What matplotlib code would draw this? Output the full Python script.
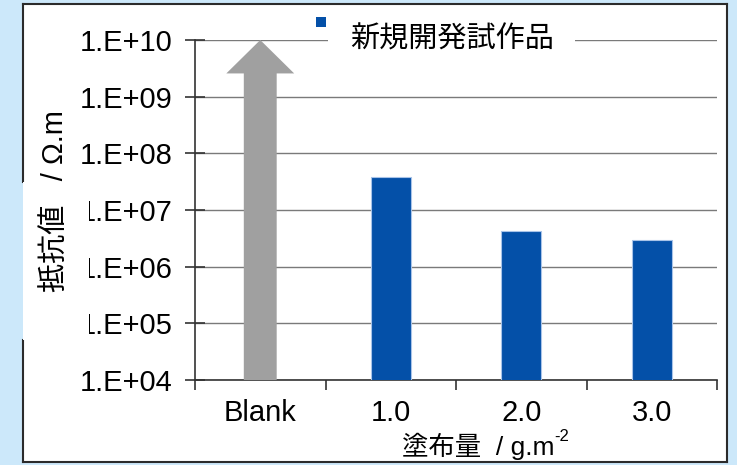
import matplotlib.pyplot as plt
import numpy as np
from matplotlib.patches import Rectangle, Polygon
from matplotlib.lines import Line2D
from matplotlib.ticker import NullLocator, FixedLocator

# data
categories = ["Blank", "1.0", "2.0", "3.0"]
blank_value = 1e10          # drawn as an arrow (off scale)
coated_values = [3.8e7, 4.3e6, 2.9e6]
ytick_exps = [4, 5, 6, 7, 8, 9, 10]
series_name = "新規開発試作品"

W, H = 737, 465
BLUE = "#0450a8"
GRAY = "#a0a0a0"
FONT = ["Liberation Sans", "Noto Sans CJK JP"]


def fx(px):
    return px / W


def fy(py):
    return 1 - py / H


plt.rcParams["font.family"] = FONT

fig = plt.figure(figsize=(W / 100, H / 100), dpi=100, facecolor="#cce8fa")

# white panel with border (left edge interrupted like the original)
fig.patches.append(Rectangle((fx(23), fy(462)), fx(727) - fx(23), fy(4) - fy(462),
                             transform=fig.transFigure, facecolor="white",
                             edgecolor="none", zorder=-2))
border = dict(transform=fig.transFigure, color="#2b2b2b", lw=1.5, zorder=-1)
for xs, ys in [((23, 727), (4, 4)), ((727, 727), (4, 462)), ((23, 727), (462, 462)),
               ((23, 23), (4, 182)), ((23, 23), (340, 462))]:
    fig.lines.append(Line2D([fx(v) for v in xs], [fy(v) for v in ys], **border))

ax = fig.add_axes([fx(195), fy(380), fx(717) - fx(195), fy(40) - fy(380)])
ax.patch.set_visible(False)
ax.set_yscale("log")
ax.set_ylim(10.0 ** ytick_exps[0], 10.0 ** ytick_exps[-1])
ax.set_xlim(-0.5, len(categories) - 0.5)

x = np.arange(len(categories))
ax.bar(x[1:], coated_values, width=0.31, color=BLUE, edgecolor="#a8c3e8",
       linewidth=0.8, zorder=3)

# Blank: gray up-arrow reaching the top of the scale
shaft, head = 0.126, 0.26
head_base = blank_value / 10 ** 0.59
bottom = 10.0 ** ytick_exps[0]
arrow = Polygon([(x[0] - shaft, bottom), (x[0] - shaft, head_base), (x[0] - head, head_base),
                 (x[0], blank_value), (x[0] + head, head_base), (x[0] + shaft, head_base),
                 (x[0] + shaft, bottom)], closed=True, facecolor=GRAY, edgecolor="none",
                zorder=3)
ax.add_patch(arrow)

ax.set_yticks([10.0 ** e for e in ytick_exps])
ax.set_yticklabels([f"1.E+{e:02d}" for e in ytick_exps])
ax.yaxis.set_minor_locator(NullLocator())
ax.yaxis.grid(True, color="#7a7a7a", lw=1)
ax.set_axisbelow(True)

ax.set_xticks(x)
ax.set_xticklabels(categories)
ax.xaxis.set_minor_locator(FixedLocator(np.arange(len(categories) + 1) - 0.5))

for s in ["top", "right"]:
    ax.spines[s].set_visible(False)
for s in ["left", "bottom"]:
    ax.spines[s].set_color("#333333")
    ax.spines[s].set_linewidth(1.2)

ax.tick_params(axis="y", which="major", direction="inout", length=14, width=1.2,
               color="#333333", labelsize=21, pad=9)
ax.tick_params(axis="x", which="major", length=0, labelsize=21, pad=14)
ax.tick_params(axis="x", which="minor", direction="out", length=7, width=1.2,
               color="#333333")

# white box hiding part of the tick labels, with the y label on it
fig.patches.append(Rectangle((fx(23), fy(340)), fx(89) - fx(23), fy(182) - fy(340),
                             transform=fig.transFigure, facecolor="white",
                             edgecolor="none", zorder=2))
fig.text(fx(55), fy(201), "抵抗値   / Ω.m", rotation=90, ha="center", va="center",
         fontsize=21, zorder=4)

# x label with superscript
xl = fig.text(fx(402), fy(446), "塗布量  / g.m", ha="left", va="center", fontsize=19)
ax.annotate("-2", xy=(1.0, 0.85), xycoords=xl, fontsize=12, ha="left", va="center")

# legend drawn over the top gridline
fig.patches.append(Rectangle((fx(328), fy(50)), fx(575) - fx(328), fy(30) - fy(50),
                             transform=fig.transFigure, facecolor="white",
                             edgecolor="none", zorder=2))
fig.patches.append(Rectangle((fx(316), fy(27)), fx(326) - fx(316), fy(17) - fy(27),
                             transform=fig.transFigure, facecolor=BLUE,
                             edgecolor="none", zorder=3))
fig.text(fx(350), fy(40), series_name, ha="left", va="center", fontsize=21, zorder=4)

fig.savefig("out.png", dpi=100, facecolor=fig.get_facecolor())
